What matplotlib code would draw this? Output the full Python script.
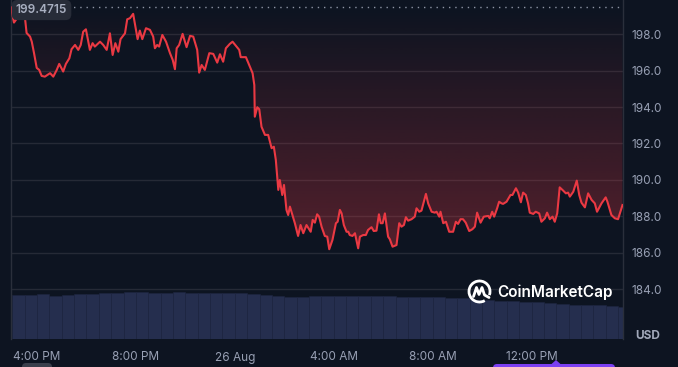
import numpy as np
import matplotlib.pyplot as plt
from matplotlib.patches import Arc, FancyBboxPatch, Polygon
from matplotlib.colors import to_rgb

plt.rcParams['font.family'] = ['Inter', 'DejaVu Sans']

# price line: hours since 25 Aug 00:00, price in USD
hours = [14.95, 15.07, 15.15, 15.24, 15.38, 15.51, 15.58, 15.72, 15.79, 15.88,
         15.99, 16.09, 16.19, 16.32, 16.53, 16.66, 16.80, 16.90, 17.06, 17.17,
         17.31, 17.40, 17.54, 17.67, 17.77, 17.87, 17.98, 18.14, 18.25, 18.34,
         18.55, 18.68, 18.82, 18.95, 19.06, 19.17, 19.29, 19.38, 19.56, 19.65,
         19.76, 19.89, 20.07, 20.16, 20.26, 20.41, 20.57, 20.70, 20.77, 20.86,
         20.94, 21.07, 21.22, 21.38, 21.49, 21.58, 21.65, 21.75, 21.89, 22.05,
         22.19, 22.32, 22.48, 22.56, 22.66, 22.79, 22.97, 23.13, 23.29, 23.40,
         23.53, 23.64, 23.80, 23.91, 24.07, 24.18, 24.24, 24.45, 24.54, 24.61,
         24.72, 24.79, 24.81, 24.91, 24.99, 25.08, 25.22, 25.35, 25.49, 25.58,
         25.66, 25.76, 25.82, 25.92, 25.99, 26.09, 26.16, 26.23, 26.43, 26.56,
         26.66, 26.77, 26.90, 27.07, 27.15, 27.24, 27.33, 27.41, 27.51, 27.64,
         27.74, 27.82, 27.95, 28.09, 28.16, 28.25, 28.32, 28.41, 28.52, 28.59,
         28.65, 28.76, 28.86, 28.99, 29.06, 29.19, 29.30, 29.39, 29.53, 29.62,
         29.73, 29.83, 29.90, 29.98, 30.07, 30.20, 30.27, 30.38, 30.54, 30.65,
         30.74, 30.84, 30.92, 31.01, 31.15, 31.28, 31.35, 31.46, 31.55, 31.73,
         31.82, 31.96, 32.09, 32.16, 32.27, 32.32, 32.43, 32.54, 32.67, 32.83,
         32.94, 33.03, 33.13, 33.23, 33.34, 33.48, 33.61, 33.71, 33.80, 33.94,
         34.07, 34.25, 34.31, 34.41, 34.49, 34.61, 34.69, 34.79, 34.85, 34.99,
         35.15, 35.23, 35.37, 35.46, 35.57, 35.66, 35.77, 35.86, 35.93, 36.07,
         36.17, 36.31, 36.40, 36.54, 36.63, 36.74, 36.85, 36.94, 37.04, 37.14,
         37.28, 37.39, 37.48, 37.55, 37.69, 37.83, 37.93, 38.02, 38.16, 38.29,
         38.43, 38.56, 38.65, 38.83, 39.00, 39.07, 39.23, 39.37, 39.50, 39.68]
price = [199.47, 198.64, 198.79, 198.97, 199.06, 198.97, 198.07, 197.87, 197.59, 196.97,
         196.15, 196.04, 195.71, 195.67, 195.86, 195.67, 196.04, 196.37, 195.95, 196.37,
         196.68, 197.18, 197.41, 197.14, 197.41, 198.14, 198.27, 197.14, 197.51, 197.32,
         197.59, 197.41, 197.14, 198.05, 196.86, 197.51, 197.04, 197.73, 198.05, 198.82,
         198.88, 199.12, 197.73, 198.20, 197.73, 198.33, 198.24, 197.87, 197.23, 197.41,
         197.32, 197.96, 197.59, 196.96, 196.59, 196.08, 197.23, 197.41, 198.02, 197.29,
         197.91, 197.87, 197.14, 195.89, 196.31, 196.04, 196.96, 196.92, 196.44, 196.90,
         196.49, 197.23, 197.47, 197.59, 197.32, 197.14, 196.74, 196.74, 196.44, 196.22,
         195.86, 195.21, 193.47, 193.99, 193.88, 192.92, 192.47, 192.47, 191.74, 191.82,
         191.09, 189.45, 189.99, 189.17, 189.72, 188.35, 188.07, 188.53, 187.62, 186.92,
         187.52, 187.07, 187.52, 187.15, 187.80, 187.65, 188.11, 187.98, 187.43, 186.92,
         186.88, 186.19, 186.70, 187.62, 187.70, 188.35, 188.16, 187.52, 187.15, 187.15,
         186.97, 186.92, 187.07, 186.24, 186.88, 186.97, 186.97, 187.25, 187.40, 187.19,
         187.21, 188.11, 187.62, 187.62, 188.16, 186.88, 186.74, 186.33, 186.42, 187.62,
         187.43, 187.52, 187.95, 187.76, 187.84, 187.98, 188.44, 188.25, 188.31, 189.23,
         188.71, 188.25, 188.20, 188.25, 187.98, 188.25, 187.62, 187.70, 187.15, 187.15,
         187.70, 187.58, 187.84, 187.84, 187.65, 187.19, 187.29, 187.43, 188.20, 187.65,
         187.98, 188.02, 187.89, 188.25, 187.98, 188.44, 188.80, 188.71, 188.68, 188.80,
         189.17, 189.17, 189.54, 189.30, 188.77, 189.30, 189.17, 188.71, 188.20, 188.13,
         188.25, 188.16, 187.70, 187.89, 188.20, 187.84, 187.98, 187.70, 188.16, 189.59,
         189.41, 189.26, 189.30, 189.08, 189.35, 189.96, 189.17, 188.75, 188.49, 189.26,
         188.90, 188.71, 188.25, 188.71, 189.04, 188.80, 188.07, 187.89, 187.84, 188.62]
open_price = 199.4715

# volume in half-hour bins starting 15:00 (relative units)
vol_start = 15.0
vol_step = 0.5
volume = [44, 44.5, 45, 43, 44.5, 45, 45.5, 46.3, 46.3, 47,
          47, 46.3, 46.5, 47, 46.5, 46.3, 46, 45.7, 45.7, 45,
          44, 43, 42, 42.5, 43, 43, 43, 43, 42.7, 42.7,
          42.7, 42.5, 42, 41.7, 41.7, 41.5, 41, 39.5, 39, 38.5,
          38, 37, 37, 36.5, 35.5, 34.5, 34, 34, 33.5, 32.5]

tick_hours = [16, 20, 24, 28, 32, 36]
tick_labels = ['4:00 PM', '8:00 PM', '26 Aug', '4:00 AM', '8:00 AM', '12:00 PM']
price_ticks = [184.0, 186.0, 188.0, 190.0, 192.0, 194.0, 196.0, 198.0]

BG = '#0d1421'
RED = '#ea3943'
GRID = '#252a36'
LABEL = '#98a0b4'
W, H = 678, 367

fig = plt.figure(figsize=(W / 100, H / 100), dpi=100, facecolor=BG)
rect = [11 / W, 28 / H, 612 / W, 339 / H]
xlim = (14.95, 39.70)
ylim = (181.26, 199.88)

# volume layer (behind)
ax_v = fig.add_axes(rect, zorder=0)
ax_v.set_facecolor(BG)
vx = [vol_start + vol_step * (i + 0.5) for i in range(len(volume))]
ax_v.bar(vx, volume, width=vol_step, color='#252e4e', edgecolor='#1d2540', linewidth=0.4)
ax_v.set_xlim(*xlim)
ax_v.set_ylim(0, max(volume) * 339 / 47)
ax_v.axis('off')

# price layer
ax = fig.add_axes(rect, zorder=1)
ax.patch.set_alpha(0)
ax.plot(hours, price, color=RED, lw=1.5, zorder=4, solid_joinstyle='round')

poly = ax.fill_between(hours, price, open_price, color='none', lw=0)
grad = np.zeros((256, 1, 4))
grad[..., :3] = to_rgb(RED)
grad[..., 3] = np.linspace(0.33, 0, 256)[:, None]
im = ax.imshow(grad, extent=[xlim[0], xlim[1], 186.0, open_price], origin='lower',
               aspect='auto', zorder=2, interpolation='bilinear')
im.set_clip_path(poly.get_paths()[0], transform=ax.transData)

ax.axhline(open_price, color='#8e95a5', lw=1, ls=(0, (1, 3.5)), zorder=3)

ax.set_xlim(*xlim)
ax.set_ylim(*ylim)
ax.set_yticks(price_ticks)
ax.set_yticklabels([f'{p:.1f}' for p in price_ticks])
ax.yaxis.tick_right()
ax.yaxis.grid(True, color=GRID, lw=1)
ax.set_axisbelow(True)
ax.set_xticks(tick_hours)
ax.set_xticklabels(tick_labels)
ax.tick_params(axis='y', length=0, pad=6, labelsize=8.5, labelcolor=LABEL)
ax.tick_params(axis='x', length=0, pad=9, labelsize=8.5, labelcolor=LABEL)
for side in ['top', 'bottom']:
    ax.spines[side].set_visible(False)
for side in ['left', 'right']:
    ax.spines[side].set_color('#2a2f3b')
    ax.spines[side].set_linewidth(1)

# overlay in pixel coordinates
ov = fig.add_axes([0, 0, 1, 1], zorder=5)
ov.set_xlim(0, W)
ov.set_ylim(H, 0)
ov.axis('off')
ov.patch.set_alpha(0)

ov.text(41.5, 10, f'{open_price:.4f}', ha='center', va='center', fontsize=8.5,
        color='#a8afc0', fontweight='semibold',
        bbox=dict(boxstyle='round,pad=0.35,rounding_size=0.5', fc='#272c38', ec='none'))

ov.text(648, 336, 'USD', ha='center', va='center', fontsize=8.5,
        fontweight='bold', color='#a1a8ba')

# CoinMarketCap watermark
cx, cy, r = 479.5, 291.5, 10.5
ov.add_patch(Arc((cx, cy), 2 * r, 2 * r, theta1=-300, theta2=20, color='white', lw=2))
ov.plot([cx - 6, cx - 3, cx - 0.5, cx + 2.5, cx + 5, cx + 9.5],
        [cy + 5, cy - 4, cy + 3, cy - 4, cy + 3.5, cy + 6],
        color='white', lw=2, solid_joinstyle='round', solid_capstyle='round')
ov.text(497, 292, 'CoinMarketCap', ha='left', va='center', fontsize=11,
        fontweight='semibold', color='white')

# cut-off UI fragments at the bottom edge
ov.add_patch(FancyBboxPatch((22, 363), 30, 10, boxstyle='round,pad=0,rounding_size=4',
                            fc='#3a3f4c', ec='none'))
ov.add_patch(FancyBboxPatch((493, 364), 122, 10, boxstyle='round,pad=0,rounding_size=4',
                            fc='#7b3ff2', ec='none'))
ov.add_patch(Polygon([[551, 364.5], [556, 360], [561, 364.5]], closed=True,
                     fc='#7b3ff2', ec='none'))

fig.savefig('out.png', dpi=100, facecolor=BG)
